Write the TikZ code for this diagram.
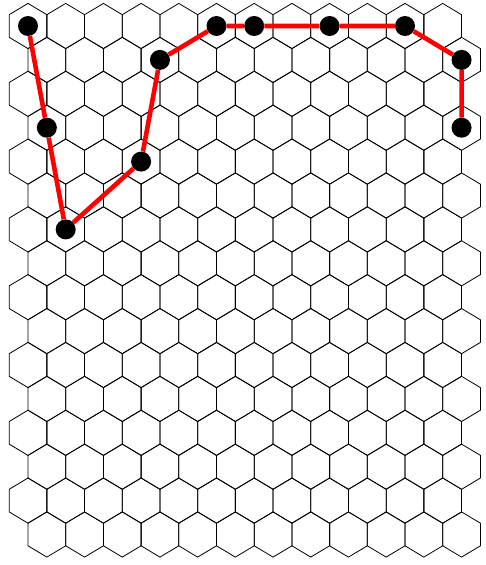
\documentclass[tikz,border=0pt]{standalone}
\usetikzlibrary{calc}
\begin{document}
\begin{tikzpicture}[x=1pt, y=-1pt,
    cell/.style={draw=black, line width=0.8pt},
    stone/.style={circle, fill=black, inner sep=0pt, minimum size=20pt},
    route/.style={red, line width=4.6pt}]
\useasboundingbox (0,0) rectangle (486,565);
% board: 16 rows of 12 cells, odd rows shifted right
\foreach \r in {0,...,15}{
  \foreach \c in {0,...,11}{
    \pgfmathsetmacro{\cx}{28+37.7*\c+18.85*mod(\r,2)}
    \pgfmathsetmacro{\cy}{26+33.9*\r}
    \draw[cell] (\cx,\cy) ++(0,-22.6) -- ++(18.85,11.3) -- ++(0,22.6) -- ++(-18.85,11.3)
      -- ++(-18.85,-11.3) -- ++(0,-22.6) -- cycle;
  }
}
% stones
\foreach \name/\c/\r in {s0/0/0, s1/0/3, s2/1/6, s3/3/4, s4/3/1, s5/5/0,
                         s6/6/0, s7/8/0, s8/10/0, s9/11/1, s10/11/3}{
  \pgfmathsetmacro{\cx}{28+37.7*\c+18.85*mod(\r,2)}
  \pgfmathsetmacro{\cy}{26+33.9*\r}
  \node[stone] (\name) at (\cx,\cy) {};
}
% route
\draw[route] (s0) -- (s1) -- (s2) -- (s3) -- (s4) -- (s5) -- (s6) -- (s7) -- (s8) -- (s9) -- (s10);
\end{tikzpicture}
\end{document}
